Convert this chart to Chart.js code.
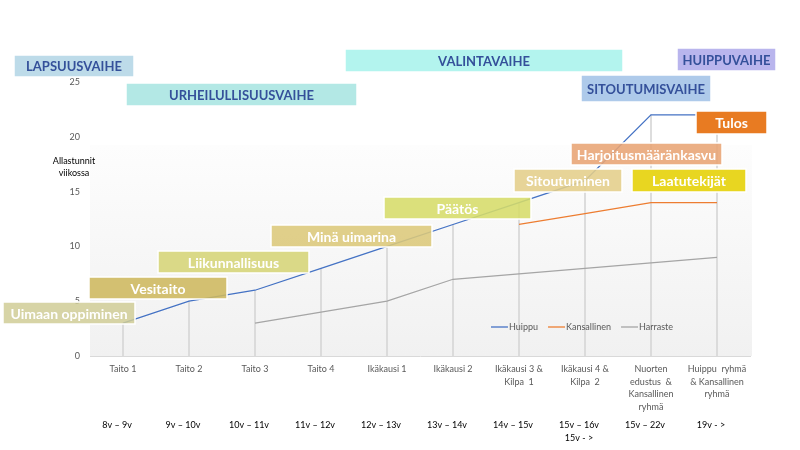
<!DOCTYPE html>
<html>
<head>
<meta charset="utf-8">
<script src="https://cdn.jsdelivr.net/npm/chart.js@4/dist/chart.umd.min.js"></script>
<style>
  body { margin: 0; background: #fff; }
</style>
</head>
<body>
<canvas id="chart" width="800" height="450"></canvas>
<script>
// data
const stages = [
    'Taito 1', 'Taito 2', 'Taito 3', 'Taito 4', 'Ikäkausi 1', 'Ikäkausi 2',
    ['Ikäkausi 3 &', 'Kilpa  1'],
    ['Ikäkausi 4 &', 'Kilpa  2'],
    ['Nuorten', 'edustus  &', 'Kansallinen', 'ryhmä'],
    ['Huippu  ryhmä', '& Kansallinen', 'ryhmä']
];
const ages = ['8v – 9v', '9v – 10v', '10v – 11v', '11v – 12v', '12v – 13v', '13v – 14v',
    '14v – 15v', ['15v – 16v', '15v - >'], '15v – 22v', '19v - >'];
const huippu = [3, 5, 6, 8, 10, 12, 14, 16, 22, 22];
const kansallinen = [null, null, null, null, null, null, 12, 13, 14, 14];
const harraste = [null, null, 3, 4, 5, 7, 7.5, 8, 8.5, 9];
const yTitle = ['Allastunnit', 'viikossa'];

// phase boxes (text, x, y, w, h, fill)
const phaseBoxes = [
    ['LAPSUUSVAIHE', 14, 55, 120, 22, '#bddbe9'],
    ['URHEILULLISUUSVAIHE', 126, 83, 231, 23, '#b3e8e5'],
    ['VALINTAVAIHE', 345, 49, 278, 23, '#b3f4ee'],
    ['HUIPPUVAIHE', 677, 48, 99, 23, '#b9b5ed'],
    ['SITOUTUMISVAIHE', 581, 75, 130, 27, '#aecaea']
];
const stepBoxes = [
    ['Uimaan oppiminen', 3, 302, 132, 22, 'rgba(208,204,150,0.85)'],
    ['Vesitaito', 89, 277, 138, 22, 'rgba(206,184,94,0.88)'],
    ['Liikunnallisuus', 158, 251, 151, 22, 'rgba(214,213,120,0.88)'],
    ['Minä uimarina', 271, 225, 161, 22, 'rgba(220,200,122,0.88)'],
    ['Päätös', 384, 197, 147, 22, 'rgba(214,220,105,0.88)'],
    ['Sitoutuminen', 514, 169, 108, 23, 'rgba(228,206,138,0.88)'],
    ['Laatutekijät', 632, 169, 114, 23, '#e8d621'],
    ['Harjoitusmääränkasvu', 571, 143, 151, 22, 'rgba(232,164,116,0.88)'],
    ['Tulos', 696, 111, 71, 23, '#e87b22']
];

const FONT = 'Lato, "Open Sans", sans-serif';

function drawBox(ctx, b, color, font) {
    ctx.fillStyle = b[5];
    ctx.fillRect(b[1], b[2], b[3], b[4]);
    ctx.strokeStyle = '#ffffff';
    ctx.lineWidth = 1.5;
    ctx.strokeRect(b[1], b[2], b[3], b[4]);
    ctx.fillStyle = color;
    ctx.font = font;
    ctx.textAlign = 'center';
    ctx.textBaseline = 'middle';
    ctx.fillText(b[0], b[1] + b[3] / 2, b[2] + b[4] / 2 + 1);
}

const decor = {
    id: 'decor',
    beforeDatasetsDraw(chart) {
        const {ctx, chartArea, scales} = chart;
        const top = scales.y.getPixelForValue(19.25);
        const g = ctx.createLinearGradient(0, top, 0, chartArea.bottom);
        g.addColorStop(0, '#fdfdfd');
        g.addColorStop(1, '#f1f1f1');
        ctx.save();
        ctx.fillStyle = g;
        ctx.fillRect(chartArea.left, top, chartArea.right - chartArea.left + 2, chartArea.bottom - top);
        ctx.restore();
    },
    afterDatasetsDraw(chart) {
        const {ctx, chartArea} = chart;
        ctx.save();
        // y title
        ctx.fillStyle = '#000';
        ctx.font = '9px ' + FONT;
        ctx.textAlign = 'center';
        ctx.textBaseline = 'middle';
        yTitle.forEach((t, i) => ctx.fillText(t, 74, 161 + i * 12));

        // legend
        const items = chart.data.datasets.filter(d => d.type === 'line');
        ctx.font = '9px ' + FONT;
        const lineW = 17;
        let total = 0;
        items.forEach(d => { total += lineW + ctx.measureText(d.label).width + 11; });
        let x = 587 - total / 2;
        const y = 327;
        items.forEach(d => {
            ctx.strokeStyle = d.borderColor;
            ctx.lineWidth = 1.3;
            ctx.beginPath();
            ctx.moveTo(x, y);
            ctx.lineTo(x + lineW, y);
            ctx.stroke();
            ctx.fillStyle = '#595959';
            ctx.textAlign = 'left';
            ctx.fillText(d.label, x + lineW + 1, y);
            x += lineW + ctx.measureText(d.label).width + 11;
        });

        phaseBoxes.forEach(b => drawBox(ctx, b, '#34509a', 'bold 13px ' + FONT));
        stepBoxes.forEach(b => drawBox(ctx, b, '#ffffff', 'bold 14px ' + FONT));
        ctx.restore();
    }
};

const ctx = document.querySelector('#chart').getContext('2d');
const myChart = new Chart(ctx, {
    data: {
        labels: stages,
        datasets: [
            {
                type: 'line',
                label: 'Huippu',
                data: huippu,
                borderColor: '#4472c4',
                borderWidth: 1.25,
                pointRadius: 0,
                order: 1
            },
            {
                type: 'line',
                label: 'Kansallinen',
                data: kansallinen,
                borderColor: '#ed7d31',
                borderWidth: 1.25,
                pointRadius: 0,
                order: 2
            },
            {
                type: 'line',
                label: 'Harraste',
                data: harraste,
                borderColor: '#a5a5a5',
                borderWidth: 1.25,
                pointRadius: 0,
                order: 3
            },
            {
                type: 'bar',
                label: 'drop',
                data: huippu,
                backgroundColor: '#d6d6d6',
                barThickness: 1,
                order: 10
            }
        ]
    },
    options: {
        responsive: false,
        animation: false,
        layout: {
            padding: {left: 0, right: 50, top: 82, bottom: 0}
        },
        scales: {
            x: {
                offset: true,
                grid: {display: false, drawTicks: false},
                border: {display: true, color: '#d9d9d9'},
                ticks: {
                    color: '#595959',
                    font: {family: FONT, size: 9, lineHeight: 1.4},
                    padding: 7,
                    maxRotation: 0,
                    autoSkip: false
                },
                afterFit: function (scale) { scale.height = 58; }
            },
            age: {
                type: 'category',
                labels: ages,
                position: 'bottom',
                offset: true,
                grid: {display: false, drawTicks: false},
                border: {display: false},
                ticks: {
                    color: '#000',
                    font: {family: FONT, size: 9, lineHeight: 1.4},
                    padding: 5,
                    labelOffset: -6,
                    maxRotation: 0,
                    autoSkip: false
                },
                afterFit: function (scale) { scale.height = 36; }
            },
            y: {
                min: 0,
                max: 25,
                ticks: {
                    stepSize: 5,
                    color: '#595959',
                    font: {family: FONT, size: 9},
                    padding: 10
                },
                grid: {display: false, drawTicks: false},
                border: {display: false},
                afterFit: function (scale) { scale.width = 90; }
            }
        },
        plugins: {
            legend: {display: false},
            tooltip: {enabled: false}
        }
    },
    plugins: [decor]
});
</script>
</body>
</html>
